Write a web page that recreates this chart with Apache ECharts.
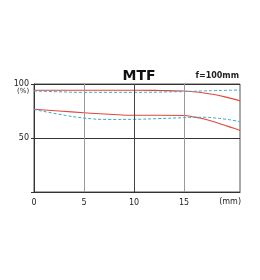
<!DOCTYPE html>
<html><head><meta charset="utf-8">
<script src="https://cdn.jsdelivr.net/npm/echarts@6/dist/echarts.min.js"></script>
<style>html,body{margin:0;padding:0;background:#fff}#c{width:260px;height:280px}</style>
</head><body><div id="c"></div>
<script>
const titleText = 'MTF';
const subText = 'f=100mm';
const xPositions = [0, 2.5, 5, 7.5, 10, 12.5, 15, 16, 17, 18, 19, 20, 20.6];
const redUpper  = [94.2, 94.2, 94.2, 94.2, 94.2, 94.0, 93.5, 92.8, 91.7, 90.2, 88.3, 86.0, 84.3];
const blueUpper = [93.5, 92.8, 92.3, 92.3, 92.3, 92.5, 93.0, 93.3, 93.6, 93.9, 94.1, 94.3, 94.4];
const redLower  = [76.6, 75.0, 73.4, 72.0, 71.0, 71.0, 70.8, 69.5, 67.6, 65.0, 62.0, 59.0, 57.0];
const blueLower = [76.4, 72.0, 68.5, 67.2, 67.3, 68.0, 68.8, 69.1, 69.2, 68.6, 67.6, 66.2, 65.0];
const xTickLabels = [0, 5, 10, 15];
const yTickLabels = [50, 100];
const xUnit = '(mm)';
const yUnit = '(%)';
const xMax = 20.6;
const vLines = [5, 10, 15];

const pairs = arr => xPositions.map((x, i) => [x, arr[i]]);
const red = '#e0483c', blue = '#3aa9cc';
const chart = echarts.init(document.getElementById('c'));
chart.setOption({
  animation: false,
  textStyle: { fontFamily: 'DejaVu Sans' },
  title: { text: titleText, left: 134, textAlign: 'center', top: 64,
    textStyle: { fontSize: 14, fontWeight: 'bold', color: '#111' } },
  grid: { left: 34, right: 20, top: 84, bottom: 88, show: true, borderColor: '#555', borderWidth: 1 },
  xAxis: { type: 'value', min: 0, max: xMax, interval: 5,
    axisLine: { show: true, lineStyle: { color: '#333' } }, axisTick: { show: false },
    splitLine: { show: false },
    axisLabel: { margin: 7, fontSize: 8, color: '#222',
      formatter: v => xTickLabels.includes(v) ? String(v) : '' } },
  yAxis: { type: 'value', min: 0, max: 100, interval: 50,
    axisLine: { show: true, lineStyle: { color: '#333' } },
    axisTick: { show: true, length: 3, lineStyle: { color: '#333' } },
    splitLine: { show: true, lineStyle: { color: '#333', width: 1 } },
    axisLabel: { margin: 5, fontSize: 8, color: '#222',
      formatter: v => yTickLabels.includes(v) ? String(v) : '' } },
  graphic: [
    { type: 'text', right: 21, top: 72, style: { text: subText, fontSize: 8, fontWeight: 'bold', fill: '#222', fontFamily: 'DejaVu Sans' } },
    { type: 'text', right: 19, top: 198, style: { text: xUnit, fontSize: 8, fill: '#222', fontFamily: 'DejaVu Sans' } },
    { type: 'text', left: 17, top: 88, style: { text: yUnit, fontSize: 7, fill: '#222', fontFamily: 'DejaVu Sans' } }
  ],
  series: [
    { type: 'line', data: [], markLine: { silent: true, symbol: 'none', label: { show: false },
      data: vLines.map(v => ({ xAxis: v, lineStyle: { type: 'solid', width: 1, color: v === 10 ? '#444' : '#999' } })) } },
    { type: 'line', data: pairs(redUpper), smooth: true, showSymbol: false, lineStyle: { color: red, width: 1.1 } },
    { type: 'line', data: pairs(redLower), smooth: true, showSymbol: false, lineStyle: { color: red, width: 1.1 } },
    { type: 'line', data: pairs(blueUpper), smooth: true, showSymbol: false, lineStyle: { color: blue, width: 1, type: [3, 2] } },
    { type: 'line', data: pairs(blueLower), smooth: true, showSymbol: false, lineStyle: { color: blue, width: 1, type: [3, 2] } }
  ]
});
</script></body></html>
